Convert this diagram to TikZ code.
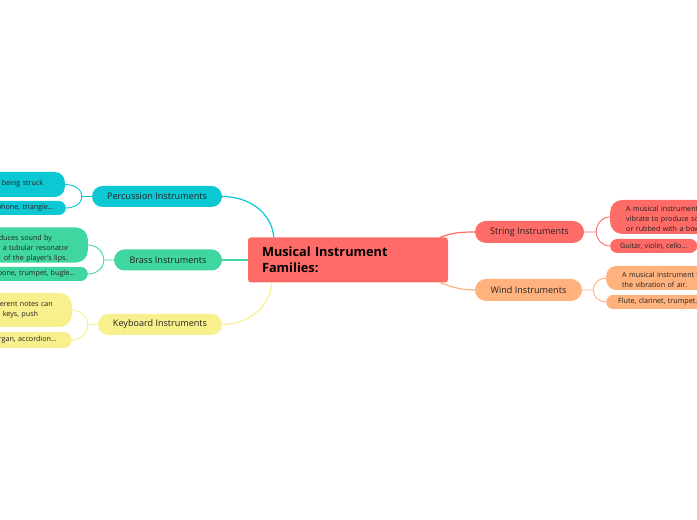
\documentclass[tikz,border=0pt]{standalone}
\usepackage{fontspec}
\setmainfont{Open Sans}
\usepackage{tikz}
\usetikzlibrary{calc}
\definecolor{mapred}{RGB}{255,107,102}
\definecolor{mapcyan}{RGB}{11,200,211}
\definecolor{mapmint}{RGB}{64,214,160}
\definecolor{mapyellow}{RGB}{248,240,140}
\definecolor{mappeach}{RGB}{255,178,125}
\definecolor{mapink}{RGB}{34,34,34}

\begin{document}
\begin{tikzpicture}[
  x=1bp, y=1bp,
  topic/.style={rectangle, rounded corners=10.5bp, minimum height=21bp, inner sep=0pt, font=\fontsize{9.1}{10}\selectfont, text=mapink},
  leaf/.style={rectangle, rounded corners=7bp, inner ysep=0pt, font=\fontsize{7.2}{10}\selectfont, text=mapink, align=left},
  textdrop/.style={execute at begin node={\rule{0pt}{#1}}},
  link/.style={line width=1.2bp},
  twig/.style={line width=0.9bp}
]
  \useasboundingbox (0,0) rectangle (697,520);
  \clip (0,0) rectangle (697,520);
  \fill[white] (0,0) rectangle (697,520);
  % centre
  \node[rectangle, rounded corners=3bp, fill=mapred, minimum width=200bp, minimum height=45bp, text width=172bp, inner xsep=14bp, align=left, font=\fontsize{12.8}{16}\selectfont\bfseries, text=black] (fam) at (348,260) {Musical Instrument\\Families:};
  % topics
  \node[topic, fill=mapcyan, minimum width=130bp] (perc) at (157,323.5) {Percussion Instruments};
  \node[topic, fill=mapmint, minimum width=108bp] (brass) at (168,260) {Brass Instruments};
  \node[topic, fill=mapyellow, minimum width=124bp] (keys) at (160,195.5) {Keyboard Instruments};
  \node[topic, fill=mapred, minimum width=109bp, minimum height=22bp, rounded corners=11bp] (str) at (529.5,288) {String Instruments};
  \node[topic, fill=mappeach, minimum width=107bp, minimum height=22bp, rounded corners=11bp] (wind) at (528.5,230) {Wind Instruments};
  % left leaves
  \node[leaf, fill=mapcyan, anchor=east, text width=89bp, inner xsep=8bp, minimum height=25bp, rounded corners=10bp, textdrop=11.5bp] (perc1) at (65,335.5) {\hspace*{34bp}being struck\\~};
  \node[leaf, fill=mapcyan, anchor=east, text width=90bp, inner xsep=8bp, minimum height=14bp] (perc2) at (66,312) {\hspace*{29bp}phone, triangle...};
  \node[leaf, fill=mapmint, anchor=east, text width=112bp, inner xsep=8bp, minimum height=34bp, rounded corners=12bp, textdrop=13.5bp] (brass1) at (88,275) {\hspace*{31bp}duces sound by\\\hspace*{35bp}a tubular resonator\\\hspace*{36bp}of the player's lips.};
  \node[leaf, fill=mapmint, anchor=east, text width=112bp, inner xsep=8bp, minimum height=14bp] (brass2) at (88,246) {\hspace*{30bp}bone, trumpet, bugle...};
  \node[leaf, fill=mapyellow, anchor=east, text width=96bp, inner xsep=8bp, minimum height=34bp, rounded corners=12bp, textdrop=13.5bp] (keys1) at (72,210) {\hspace*{32bp}erent notes can\\\hspace*{35bp}keys, push\\~};
  \node[leaf, fill=mapyellow, anchor=east, text width=96bp, inner xsep=8bp, minimum height=16bp, rounded corners=8bp] (keys2) at (72,180) {\hspace*{31bp}rgan, accordion...};
  % right leaves
  \node[leaf, fill=mapred, anchor=west, text width=150bp, inner xsep=16bp, minimum height=34bp, rounded corners=12bp, textdrop=9.5bp] (str1) at (610,303) {A musical instrument\\vibrate to produce so\\or rubbed with a bow};
  \node[leaf, fill=mapred, anchor=west, minimum width=86bp, inner xsep=10bp, minimum height=14bp] (str2) at (610,274) {Guitar, violin, cello...};
  \node[leaf, fill=mappeach, anchor=west, text width=150bp, inner xsep=16bp, minimum height=24bp, rounded corners=10bp, textdrop=9.5bp] (wind1) at (606,242) {A musical instrument w\\the vibration of air.};
  \node[leaf, fill=mappeach, anchor=west, text width=150bp, inner xsep=12bp, minimum height=14bp] (wind2) at (606,218) {Flute, clarinet, trumpet...};
  % main links
  \draw[link, mapcyan] (perc.east) to[out=0, in=95] ($(fam.north west)+(26,0)$);
  \draw[link, mapmint] (brass.east) -- (fam.west);
  \draw[link, mapyellow] (keys.east) to[out=0, in=-95] ($(fam.south west)+(24,0)$);
  \draw[link, mapred] ($(fam.north east)+(-8,0)$) to[out=20, in=180] (str.west);
  \draw[link, mappeach] ($(fam.south east)+(-8,0)$) to[out=-20, in=180] (wind.west);
  % forks
  \draw[twig, mapcyan] (perc.west) -- ++(-10,0) coordinate (percfork) to[out=90, in=0] (perc1.east);
  \draw[twig, mapcyan] (percfork) to[out=-90, in=0] (perc2.east);
  \draw[twig, mapmint] (brass.west) -- ++(-10,0) coordinate (brassfork) to[out=90, in=0] (brass1.east);
  \draw[twig, mapmint] (brassfork) to[out=-90, in=0] (brass2.east);
  \draw[twig, mapyellow] (keys.west) -- ++(-10,0) coordinate (keysfork) to[out=90, in=0] (keys1.east);
  \draw[twig, mapyellow] (keysfork) to[out=-90, in=0] (keys2.east);
  \draw[twig, mapred] (str.east) -- ++(12,0) coordinate (strfork) to[out=90, in=180] (str1.west);
  \draw[twig, mapred] (strfork) to[out=-90, in=180] (str2.west);
  \draw[twig, mappeach] (wind.east) -- ++(11,0) coordinate (windfork) to[out=90, in=180] (wind1.west);
  \draw[twig, mappeach] (windfork) to[out=-90, in=180] (wind2.west);
\end{tikzpicture}
\end{document}
